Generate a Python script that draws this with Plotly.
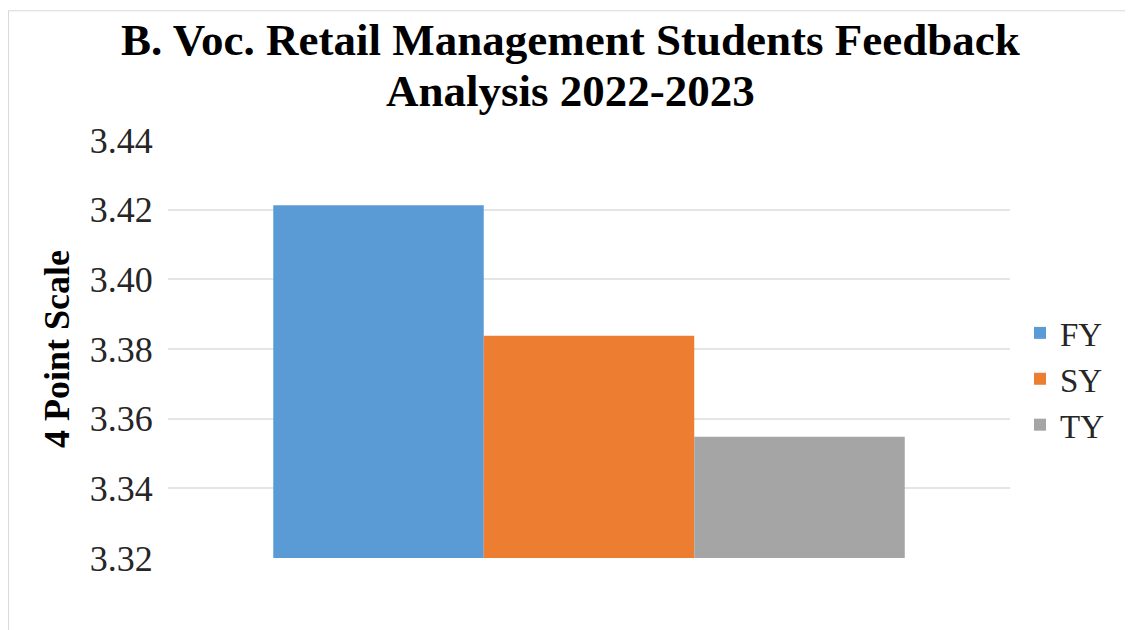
"""B. Voc. Retail Management students feedback bar chart."""

import plotly.graph_objects as go

CATEGORY = [""]
YEARS = ["FY", "SY", "TY"]
SCORES = [3.4213, 3.3838, 3.3548]
COLORS = ["#5B9BD5", "#ED7D31", "#A5A5A5"]
Y_TICKS = [3.32, 3.34, 3.36, 3.38, 3.40, 3.42, 3.44]
TITLE_LINES = ["B. Voc. Retail Management Students Feedback", "Analysis 2022-2023"]
Y_TITLE = "4 Point Scale"

FONT = "Liberation Serif, Times New Roman, serif"
BASE = Y_TICKS[0]

# plot area in figure pixels, used to place the free text
PLOT_L, PLOT_R, PLOT_T, PLOT_B = 160, 1002, 131.5, 550.5
PW, PH = PLOT_R - PLOT_L, PLOT_B - PLOT_T


def px_x(x):
    return (x - PLOT_L) / PW


def px_y(y):
    return (PLOT_B - y) / PH


fig = go.Figure()
for year, score, color in zip(YEARS, SCORES, COLORS):
    fig.add_trace(
        go.Bar(
            x=CATEGORY,
            y=[score - BASE],
            base=BASE,
            name=year,
            marker=dict(color=color, line=dict(width=0)),
            hovertemplate=f"{year}: {score:.4f}<extra></extra>",
        )
    )

fig.update_layout(
    width=1133,
    height=630,
    barmode="group",
    bargap=0.25,
    bargroupgap=0,
    plot_bgcolor="white",
    paper_bgcolor="white",
    font=dict(family=FONT, color="#262626"),
    margin=dict(l=PLOT_L, r=1133 - PLOT_R, t=PLOT_T, b=630 - PLOT_B),
    legend=dict(
        x=px_x(1012),
        y=px_y(371),
        xanchor="left",
        yanchor="middle",
        font=dict(family=FONT, size=33, color="#262626"),
        tracegroupgap=0,
    ),
    showlegend=True,
)

for text, ymid in zip(TITLE_LINES, [31, 82]):
    fig.add_annotation(
        text=f"<b>{text}</b>",
        xref="paper", yref="paper",
        x=px_x(562), y=px_y(ymid),
        xanchor="center", yanchor="middle",
        showarrow=False,
        font=dict(family=FONT, size=45, color="#000000"),
    )

fig.add_annotation(
    text=f"<b>{Y_TITLE}</b>",
    xref="paper", yref="paper",
    x=px_x(49), y=0.5,
    xanchor="center", yanchor="middle",
    textangle=-90,
    showarrow=False,
    font=dict(family=FONT, size=36, color="#000000"),
)

fig.update_xaxes(showticklabels=False, showgrid=False, zeroline=False, showline=False)
fig.update_yaxes(
    range=[Y_TICKS[0], Y_TICKS[-1]],
    tickvals=Y_TICKS,
    ticktext=[f"{v:.2f}" for v in Y_TICKS],
    tickfont=dict(family=FONT, size=36, color="#262626"),
    ticks="outside",
    ticklen=7,
    tickcolor="rgba(0,0,0,0)",
    showgrid=True,
    gridcolor="#E5E5E5",
    gridwidth=2,
    zeroline=False,
    showline=False,
)

# thin frame edge visible along the top and left of the original crop
fig.add_shape(
    type="line", xref="paper", yref="paper",
    x0=px_x(0), x1=px_x(1133), y0=px_y(2), y1=px_y(2),
    line=dict(color="#D9D9D9", width=1),
)
fig.add_shape(
    type="line", xref="paper", yref="paper",
    x0=px_x(0.5), x1=px_x(0.5), y0=px_y(2), y1=px_y(630),
    line=dict(color="#D9D9D9", width=1),
)

fig.write_html("out.html")
